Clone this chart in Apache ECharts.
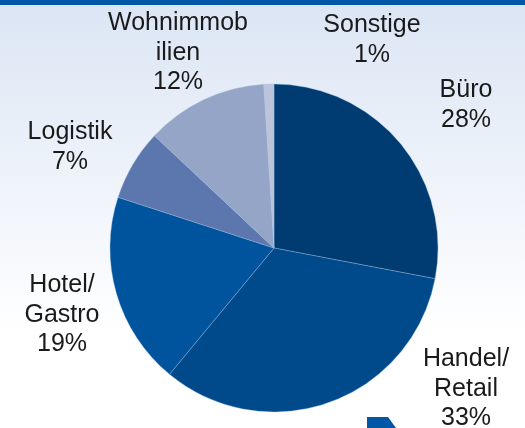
<!DOCTYPE html>
<html>
<head>
<meta charset="utf-8">
<script src="https://cdn.jsdelivr.net/npm/echarts@6/dist/echarts.min.js"></script>
<style>
html,body{margin:0;padding:0;background:#fff;}
#main{width:525px;height:428px;}
</style>
</head>
<body>
<div id="main"></div>
<script>
// Anteile nach Nutzungsart (im Uhrzeigersinn ab 12 Uhr)
var categories = ['Büro', 'Handel/\nRetail', 'Hotel/\nGastro', 'Logistik', 'Wohnimmob\nilien', 'Sonstige'];
var shares = [28, 33, 19, 7, 12, 1];
var sliceColors = ['#003b72', '#004a8c', '#00539d', '#5b77ad', '#94a5c7', '#bcc4d9'];
// Label-Mittelpunkte in Pixeln
var labelPos = [[466, 105], [466, 389], [62, 315], [70, 147], [178, 53], [372, 40]];

var pieData = [];
for (var i = 0; i < categories.length; i++) {
    pieData.push({
        name: categories[i],
        value: shares[i],
        itemStyle: {color: sliceColors[i]}
    });
}

var chart = echarts.init(document.getElementById('main'), null, {renderer: 'canvas'});
var option = {
    animation: false,
    graphic: [
        {
            type: 'rect', z: -10, silent: true,
            shape: {x: 0, y: 0, width: 525, height: 428},
            style: {
                fill: new echarts.graphic.LinearGradient(0, 0, 0, 1, [
                    {offset: 0, color: '#dbe5f4'},
                    {offset: 0.78, color: '#ffffff'},
                    {offset: 1, color: '#ffffff'}
                ])
            }
        },
        {
            type: 'rect', z: -5, silent: true,
            shape: {x: 0, y: 0, width: 525, height: 5},
            style: {fill: '#0057a6'}
        },
        {
            type: 'polygon', z: -5, silent: true,
            shape: {points: [[367, 417], [388, 417], [396, 428], [367, 428]]},
            style: {fill: '#0057a6'}
        }
    ],
    series: [{
        type: 'pie',
        center: [274, 248],
        radius: 164,
        startAngle: 90,
        clockwise: true,
        data: pieData,
        itemStyle: {
            borderColor: 'rgba(160,190,230,0.6)',
            borderWidth: 0.6
        },
        label: {
            show: true,
            position: 'outside',
            formatter: '{b}\n{c}%',
            fontFamily: 'Liberation Sans, Arial, sans-serif',
            fontSize: 25,
            lineHeight: 29.5,
            color: '#1a1a1a',
            align: 'center',
            overflow: 'none',
            width: 200
        },
        labelLine: {show: false},
        labelLayout: function (params) {
            var p = labelPos[params.dataIndex];
            return {x: p[0], y: p[1], align: 'center', verticalAlign: 'middle'};
        },
        emphasis: {disabled: true}
    }]
};
chart.setOption(option);
</script>
</body>
</html>
